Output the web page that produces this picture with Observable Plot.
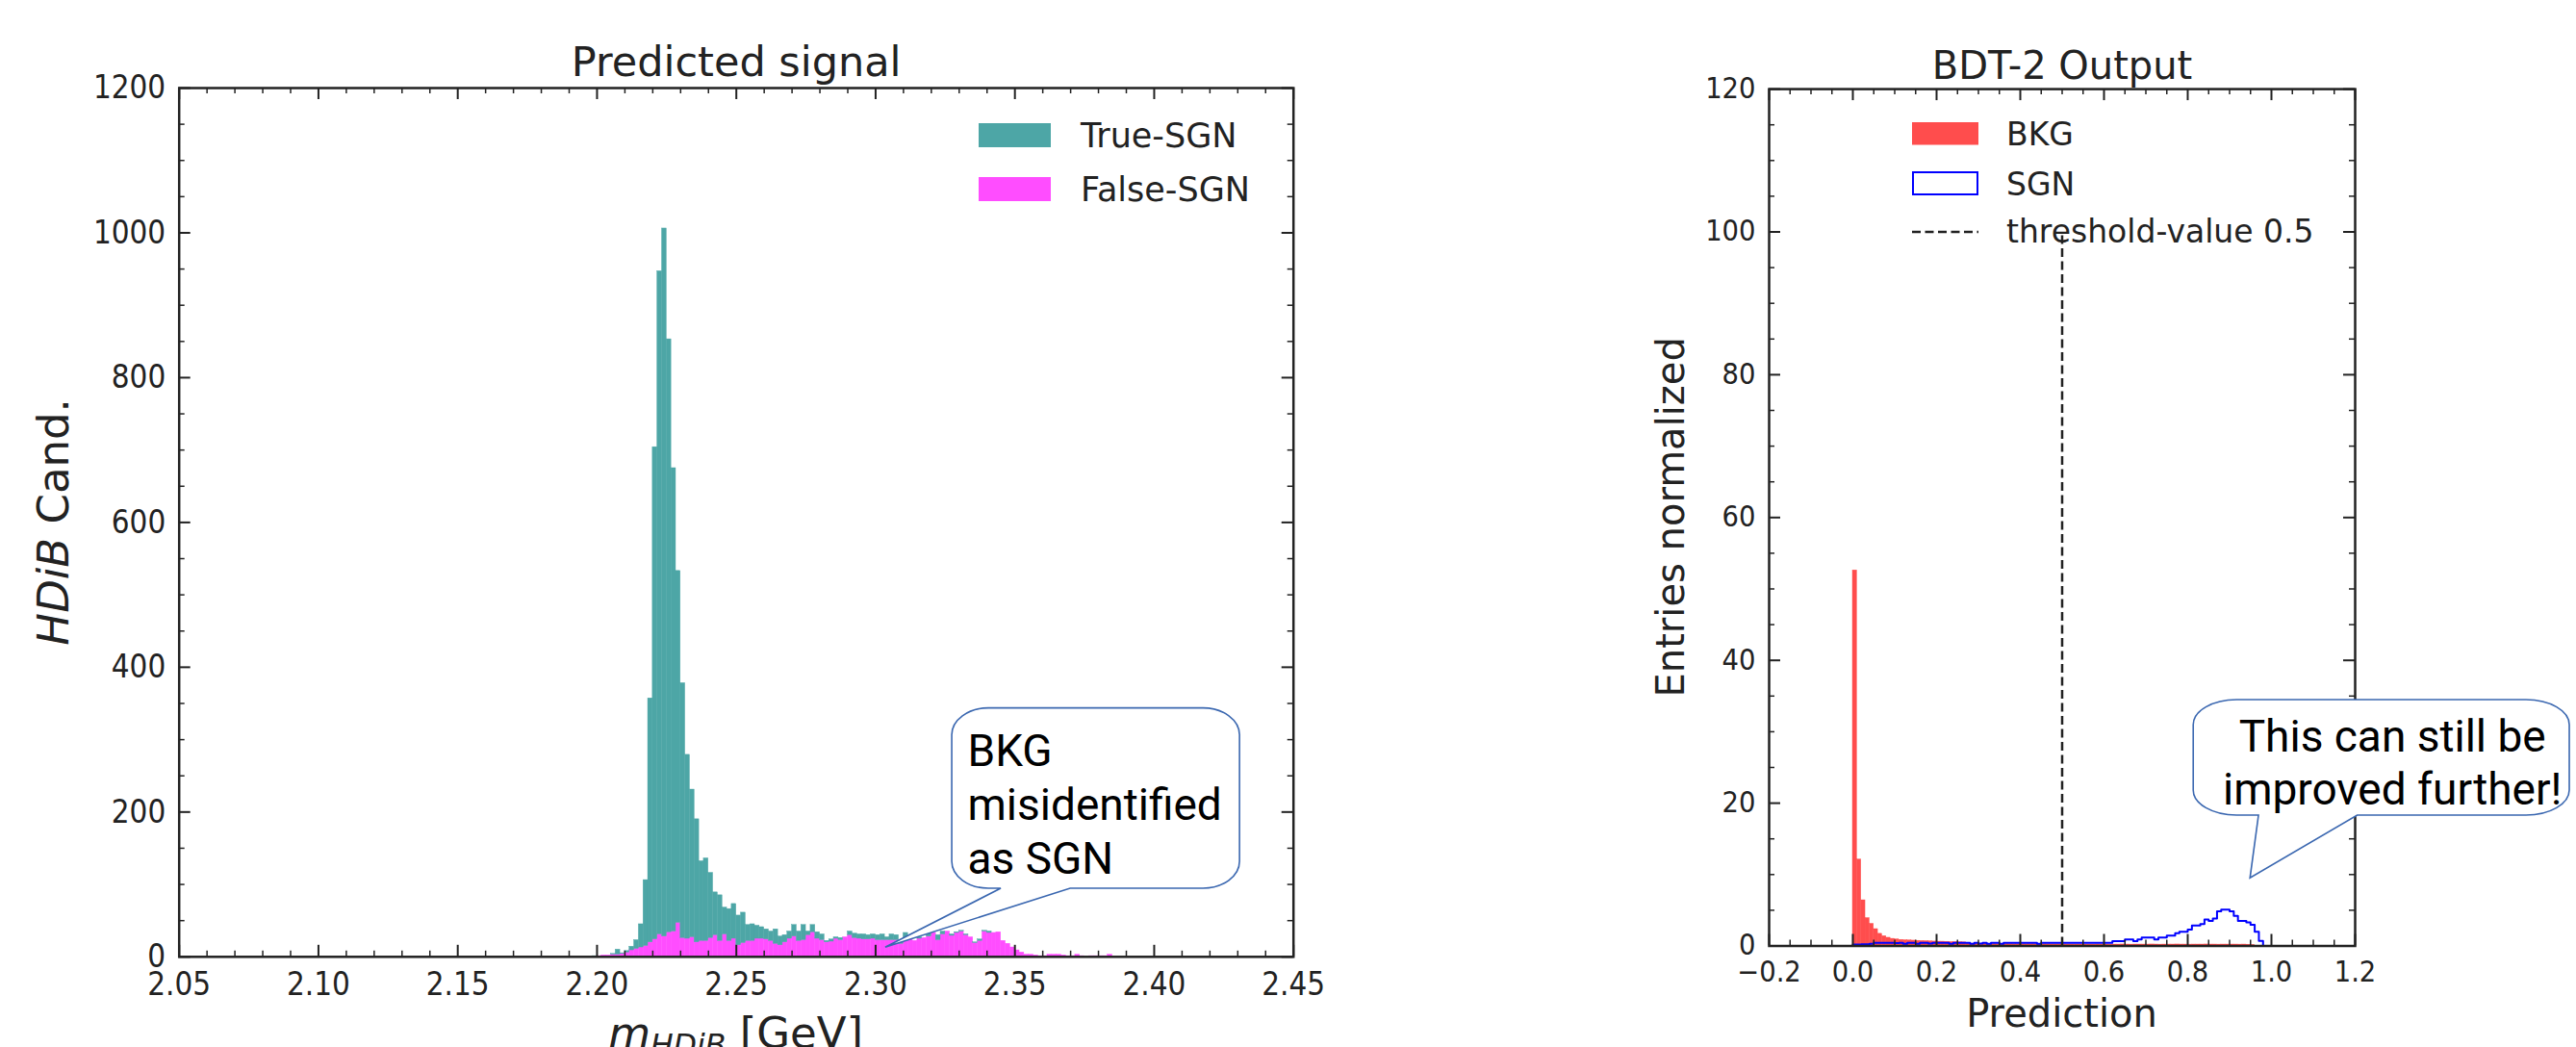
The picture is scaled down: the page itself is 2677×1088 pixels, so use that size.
<!DOCTYPE html>
<html><head><meta charset="utf-8">
<script src="https://cdn.jsdelivr.net/npm/d3@7"></script>
<script src="https://cdn.jsdelivr.net/npm/@observablehq/plot@0.6"></script>
<style>
html,body{margin:0;padding:0;background:#fff;}
#wrap{position:relative;width:2677px;height:1088px;overflow:hidden;background:#fff;}
#left,#right{position:absolute;top:0;}
#left{left:0;} #right{left:1400px;}
</style></head>
<body><div id="wrap"><div id="left"></div><div id="right"></div></div>
<script>
// ---------------- DATA ----------------
// Left panel: histogram of m_HDiB, bins of width 1/600 GeV starting at 2.05 GeV; first listed bin index:
const massRange = [2.05, 2.45];
const massBinsPerGeV = 600;
const massFirstBin = 88;
const falseSGN = [
  0,0,1,2,2,3,3,4,6,9,
  11,13,15,20,24,31,28,34,35,47,
  26,25,27,20,22,22,26,30,22,31,
  22,25,16,19,22,22,25,25,24,22,
  18,16,20,25,28,22,23,30,34,25,
  23,20,21,25,23,27,30,26,25,24,
  24,25,23,23,23,23,23,18,22,25,
  22,25,26,28,33,23,31,35,29,33,
  35,30,27,19,22,35,33,33,34,22,
  18,13,9,6,3,3,2,1,1,3,
  3,3,2,1,1,3,1,0,1,1,
  1,1,3,0];
const trueSGN = [
  0,1,0,0,0,1,7,1,2,5,
  12,32,91,337,680,916,978,819,640,486,
  352,254,204,170,110,114,90,59,63,37,
  44,48,41,42,22,23,18,16,14,13,
  20,12,10,10,16,13,21,5,10,9,
  8,2,3,2,3,0,5,6,6,7,
  6,6,7,8,4,8,7,4,11,2,
  0,2,0,5,0,7,4,0,2,1,
  1,1,0,1,2,1,2,0,0,0,
  0,0,0,0,0,0,0,0,0,0,
  0,0,0,0,0,0,0,0,0,0,
  0,0,0,0];
const massXTicks = [2.05,2.10,2.15,2.20,2.25,2.30,2.35,2.40,2.45];
const massYTicks = [0,200,400,600,800,1000,1200];
const massSeries = ["True-SGN","False-SGN"];

// Right panel: BDT-2 prediction, bins of width 0.01 starting at 0
const predBinWidth = 0.01;
const bkgCounts = [
  52.6,12.1,6.4,3.9,3.1,2.36,1.7,1.37,1.15,1.0,
  0.92,0.85,0.8,0.78,0.75,0.72,0.7,0.68,0.65,0.62,
  0.6,0.6,0.58,0.55,0.55,0.52,0.5,0.35,0.32,0.3,
  0.3,0.3,0.28,0.28,0.27,0.27,0.26,0.26,0.25,0.25,
  0.25,0.24,0.24,0.24,0.23,0.23,0.23,0.22,0.22,0.22,
  0.22,0.21,0.21,0.21,0.21,0.2,0.2,0.2,0.21,0.2,
  0.2,0.19,0.2,0.2,0.21,0.2,0.19,0.2,0.2,0.2,
  0.2,0.21,0.2,0.19,0.2,0.2,0.2,0.21,0.2,0.2,
  0.19,0.2,0.2,0.2,0.21,0.2,0.2,0.19,0.2,0.2,
  0.2,0.2,0.19,0.2,0.18,0.15];
const sgnCounts = [
  0.2,0.2,0.25,0.25,0.3,0.45,0.45,0.45,0.45,0.45,
  0.4,0.45,0.3,0.45,0.45,0.3,0.45,0.45,0.35,0.45,
  0.45,0.45,0.45,0.3,0.45,0.45,0.45,0.45,0.3,0.45,
  0.35,0.45,0.3,0.45,0.45,0.3,0.45,0.45,0.45,0.45,
  0.45,0.45,0.45,0.45,0.3,0.45,0.45,0.45,0.45,0.45,
  0.45,0.45,0.45,0.45,0.45,0.45,0.45,0.45,0.45,0.45,
  0.45,0.45,0.68,0.68,0.68,0.9,0.9,0.68,0.9,1.19,
  1.19,1.19,0.9,1.19,1.19,1.46,1.46,1.78,2.0,2.0,
  2.3,2.87,2.87,3.05,3.7,3.5,3.85,4.85,5.1,5.1,
  4.85,4.2,3.5,3.5,3.3,2.97,2.0,0.7];
const threshold = 0.5;
const thresholdTop = 100;
const predXTicks = [-0.2,0,0.2,0.4,0.6,0.8,1.0,1.2];
const predYTicks = [0,20,40,60,80,100,120];
const predSeries = ["BKG","SGN","threshold-value 0.5"];

// Annotations (data coordinates)
const leftNote = {text: "BKG\nmisidentified\nas SGN", box: [2.3275, 2.4308, 94.1, 343.2], tail: [2.3451, 2.3700], tip: [2.3036, 12.6], textAt: [2.333, 317]};
const rightNote = {text: "This can still be\nimproved further!", box: [0.8143, 1.7127, 18.26, 34.43], tail: [0.9702, 1.2060], tip: [0.9499, 9.46], textAt: [1.2889, 32.5]};

// ---------------- HELPERS ----------------
const NS = "http://www.w3.org/2000/svg";
function el(tag, attrs = {}, text) {
  const e = document.createElementNS(NS, tag);
  for (const k in attrs) e.setAttribute(k, attrs[k]);
  if (text != null) e.textContent = text;
  return e;
}
const INK = "#222";
const COL = {teal: "#4da6a6", magenta: "#ff4dff", red: "#ff4d4d", blue: "#0000ff"};

function bubbleMark(note, rx, ry) {
  return (index, {x, y}) => {
    const x0 = x(note.box[0]), x1 = x(note.box[1]);
    const y0 = y(note.box[3]), y1 = y(note.box[2]);
    const ta = x(note.tail[0]), tb = x(note.tail[1]);
    const tx = x(note.tip[0]), ty = y(note.tip[1]);
    const d = `M${x0+rx},${y0}H${x1-rx}A${rx},${ry} 0 0 1 ${x1},${y0+ry}V${y1-ry}A${rx},${ry} 0 0 1 ${x1-rx},${y1}`+
      `H${tb}L${tx},${ty}L${ta},${y1}H${x0+rx}A${rx},${ry} 0 0 1 ${x0},${y1-ry}V${y0+ry}A${rx},${ry} 0 0 1 ${x0+rx},${y0}Z`;
    return el("path", {d, fill: "#fff", stroke: "#3a67b0", "stroke-width": 1.6});
  };
}

function minorTicks(lo, hi, step, major) {
  const out = [];
  const n = Math.round((hi - lo) / step);
  for (let i = 0; i <= n; i++) {
    const v = +(lo + i * step).toFixed(6);
    if (!major.some(m => Math.abs(m - v) < 1e-9)) out.push(v);
  }
  return out;
}

function frameTicks(xMajor, xMinor, yMajor, yMinor, fw, fh) {
  const s = {stroke: INK};
  return [
    Plot.tickX(xMajor, {x: d => d, insetTop: fh - 12, strokeWidth: 2, ...s}),
    Plot.tickX(xMajor, {x: d => d, insetBottom: fh - 12, strokeWidth: 2, ...s}),
    Plot.tickX(xMinor, {x: d => d, insetTop: fh - 6, strokeWidth: 1.5, ...s}),
    Plot.tickX(xMinor, {x: d => d, insetBottom: fh - 6, strokeWidth: 1.5, ...s}),
    Plot.tickY(yMajor, {y: d => d, insetRight: fw - 12, strokeWidth: 2, ...s}),
    Plot.tickY(yMajor, {y: d => d, insetLeft: fw - 12, strokeWidth: 2, ...s}),
    Plot.tickY(yMinor, {y: d => d, insetRight: fw - 6, strokeWidth: 1.5, ...s}),
    Plot.tickY(yMinor, {y: d => d, insetLeft: fw - 6, strokeWidth: 1.5, ...s})
  ];
}

// narrow the tick labels a little (the reference glyphs are taller than wide)
function squeezeLabels(svg, labels, sx) {
  const set = new Set(labels);
  svg.querySelectorAll("text").forEach(t => {
    if (set.has(t.textContent) && t.getAttribute("transform")) {
      t.setAttribute("transform", t.getAttribute("transform") + ` scale(${sx},1)`);
    }
  });
}

// ---------------- LEFT PANEL ----------------
{
  const W = 1400, H = 1088, mL = 185.7, mR = 56.3, mT = 91, mB = 94.2;
  const fw = W - mL - mR, fh = H - mT - mB;
  const falseRows = falseSGN.map((v, i) => {
    const k = massFirstBin + i;
    return {x1: massRange[0] + k / massBinsPerGeV, x2: massRange[0] + (k + 1) / massBinsPerGeV, y1: 0, y2: v};
  });
  const trueRows = trueSGN.map((v, i) => {
    const k = massFirstBin + i;
    return {x1: massRange[0] + k / massBinsPerGeV, x2: massRange[0] + (k + 1) / massBinsPerGeV, y1: falseSGN[i], y2: falseSGN[i] + v};
  }).filter(d => d.y2 > d.y1);

  const legend = (index, scales, values, dim) => {
    const g = el("g", {"font-family": "DejaVu Sans, sans-serif", "font-size": 35, fill: INK, "text-anchor": "start"});
    const cols = [COL.teal, COL.magenta];
    massSeries.forEach((s, i) => {
      const top = 128 + i * 56;
      g.appendChild(el("rect", {x: 1017, y: top, width: 75, height: 25, fill: cols[i]}));
      g.appendChild(el("text", {x: 1123, y: top + 25}, s));
    });
    return g;
  };
  const labels = (index, scales, values, dim) => {
    const g = el("g", {"font-family": "DejaVu Sans, sans-serif", fill: INK});
    const yl = el("text", {transform: `translate(71,${mT + fh / 2}) rotate(-90)`, "text-anchor": "middle", "font-size": 45});
    const a = el("tspan", {"font-style": "italic"}, "HDiB"); yl.appendChild(a);
    yl.appendChild(el("tspan", {}, " Cand."));
    g.appendChild(yl);
    const xl = el("text", {x: mL + fw / 2, y: 1089, "text-anchor": "middle", "font-size": 45});
    xl.appendChild(el("tspan", {"font-style": "italic"}, "m"));
    xl.appendChild(el("tspan", {"font-style": "italic", "font-size": 31.5, dy: 8}, "HDiB"));
    xl.appendChild(el("tspan", {dy: -8}, " [GeV]"));
    g.appendChild(xl);
    return g;
  };

  const xFmt = d => d.toFixed(2);
  const plot = Plot.plot({
    width: W, height: H, marginLeft: mL, marginRight: mR, marginTop: mT, marginBottom: mB,
    style: {fontFamily: "DejaVu Sans, sans-serif", color: INK, background: "#fff", overflow: "visible"},
    x: {domain: massRange, axis: null},
    y: {domain: [0, 1200], axis: null},
    marks: [
      Plot.rect(falseRows, {x1: "x1", x2: "x2", y1: "y1", y2: "y2", fill: COL.magenta, stroke: COL.magenta, strokeWidth: 0.4}),
      Plot.rect(trueRows, {x1: "x1", x2: "x2", y1: "y1", y2: "y2", fill: COL.teal, stroke: COL.teal, strokeWidth: 0.4}),
      ...frameTicks(massXTicks, minorTicks(2.05, 2.45, 0.01, massXTicks), massYTicks, minorTicks(0, 1200, 50, massYTicks), fw, fh),
      Plot.frame({stroke: INK, strokeWidth: 2.5}),
      Plot.text(massXTicks, {x: d => d, text: xFmt, frameAnchor: "bottom", lineAnchor: "bottom", dy: 40, fontSize: 34, fill: INK}),
      Plot.text(massYTicks, {y: d => d, text: d => String(d), frameAnchor: "left", textAnchor: "end", dx: -14, fontSize: 34, fill: INK}),
      Plot.text(["Predicted signal"], {frameAnchor: "top", lineAnchor: "bottom", dy: -12.6, fontSize: 43, fill: INK}),
      legend,
      labels,
      bubbleMark(leftNote, 38, 28),
      Plot.text([leftNote], {x: d => d.textAt[0], y: d => d.textAt[1], text: "text", textAnchor: "start", lineAnchor: "top", lineHeight: 1.224, fontSize: 46, fontFamily: "Roboto", fill: "#000"})
    ]
  });
  squeezeLabels(plot, [...massXTicks.map(xFmt), ...massYTicks.map(String)], 0.87);
  document.getElementById("left").appendChild(plot);
}

// ---------------- RIGHT PANEL ----------------
{
  const W = 1277, H = 1088, mL = 438, mR = 230, mT = 92.1, mB = 105.5;
  const fw = W - mL - mR, fh = H - mT - mB;
  const bkgRows = bkgCounts.map((v, i) => ({x1: i * predBinWidth, x2: (i + 1) * predBinWidth, y1: 0, y2: v}));
  const sgnPts = [{x: 0, y: 0}, ...sgnCounts.map((v, i) => ({x: i * predBinWidth, y: v})), {x: sgnCounts.length * predBinWidth, y: 0}];
  const fmt = d => (d < 0 ? "\u2212" : "") + Math.abs(d).toFixed(1);

  const legend = (index, scales, values, dim) => {
    const g = el("g", {"font-family": "DejaVu Sans, sans-serif", "font-size": 33, fill: INK, "text-anchor": "start"});
    g.appendChild(el("rect", {x: 587, y: 127, width: 69, height: 23.5, fill: COL.red}));
    g.appendChild(el("rect", {x: 588, y: 179, width: 67, height: 23, fill: "none", stroke: COL.blue, "stroke-width": 2}));
    g.appendChild(el("line", {x1: 587, x2: 656, y1: 241, y2: 241, stroke: INK, "stroke-width": 2.5, "stroke-dasharray": "9,4.5"}));
    [150.5, 203, 252].forEach((b, i) => g.appendChild(el("text", {x: 685, y: b}, predSeries[i])));
    return g;
  };
  const labels = (index, scales, values, dim) => {
    const g = el("g", {"font-family": "DejaVu Sans, sans-serif", fill: INK, "font-size": 40, "text-anchor": "middle"});
    g.appendChild(el("text", {transform: `translate(350,${mT + fh / 2}) rotate(-90)`}, "Entries normalized"));
    g.appendChild(el("text", {x: mL + fw / 2, y: 1067}, "Prediction"));
    return g;
  };

  const plot = Plot.plot({
    width: W, height: H, marginLeft: mL, marginRight: mR, marginTop: mT, marginBottom: mB,
    style: {fontFamily: "DejaVu Sans, sans-serif", color: INK, background: "#fff", overflow: "visible"},
    x: {domain: [-0.2, 1.2], axis: null},
    y: {domain: [0, 120], axis: null},
    marks: [
      Plot.rect(bkgRows, {x1: "x1", x2: "x2", y1: "y1", y2: "y2", fill: COL.red, stroke: COL.red, strokeWidth: 0.4}),
      Plot.line(sgnPts, {x: "x", y: "y", curve: "step-after", stroke: COL.blue, strokeWidth: 2}),
      Plot.ruleX([threshold], {x: d => d, y1: 0, y2: thresholdTop, stroke: INK, strokeWidth: 2.5, strokeDasharray: "9,4.5"}),
      ...frameTicks(predXTicks, minorTicks(-0.2, 1.2, 0.05, predXTicks), predYTicks, minorTicks(0, 120, 5, predYTicks), fw, fh),
      Plot.frame({stroke: INK, strokeWidth: 2.5}),
      Plot.text(predXTicks, {x: d => d, text: fmt, frameAnchor: "bottom", lineAnchor: "bottom", dy: 36.5, fontSize: 29.5, fill: INK}),
      Plot.text(predYTicks, {y: d => d, text: d => String(d), frameAnchor: "left", textAnchor: "end", dx: -14, fontSize: 29.5, fill: INK}),
      Plot.text(["BDT-2 Output"], {frameAnchor: "top", lineAnchor: "bottom", dy: -11, fontSize: 40, fill: INK}),
      legend,
      labels,
      bubbleMark(rightNote, 45, 26),
      Plot.text([rightNote], {x: d => d.textAt[0], y: d => d.textAt[1], text: "text", textAnchor: "middle", lineAnchor: "top", lineHeight: 1.196, fontSize: 46, fontFamily: "Roboto", fill: "#000"})
    ]
  });
  squeezeLabels(plot, [...predXTicks.map(fmt), ...predYTicks.map(String)], 0.93);
  document.getElementById("right").appendChild(plot);
}
</script>
</body></html>
